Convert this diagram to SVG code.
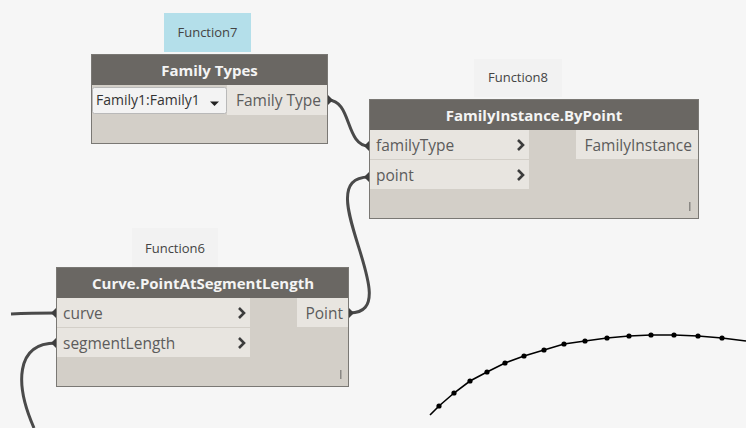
<svg xmlns="http://www.w3.org/2000/svg" width="746" height="428" viewBox="0 0 746 428">
  <style>
    .bg { fill: #f6f6f6; }
    .tag { fill: #f2f2f2; }
    .tag-sel { fill: #b4dfea; }
    .tag-text { font-family: "Open Sans", "Noto Sans", sans-serif; font-size: 13px; fill: #444; text-anchor: middle; }
    .body { fill: #d3cfc8; stroke: #7a7874; stroke-width: 1; }
    .head { fill: #6a6763; }
    .title { font-family: "Open Sans", "Noto Sans", sans-serif; font-size: 15px; font-weight: bold; fill: #f4f4f4; text-anchor: middle; }
    .port { fill: #e8e5e0; }
    .port-text { font-family: "Open Sans", "Noto Sans", sans-serif; font-size: 15.5px; fill: #5c5c5c; }
    .chev { fill: none; stroke: #3c3c3c; stroke-width: 2.6; stroke-linejoin: miter; }
    .lace { fill: #8a8884; }
    .wire { fill: none; stroke: #4a4a4a; stroke-width: 3; }
    .cap { fill: #3e3e3e; }
    .curve { fill: none; stroke: #000; stroke-width: 1.6; }
    .pt { fill: #000; }
  </style>

  <rect class="bg" x="0" y="0" width="746" height="428"/>

  <!-- connectors -->
  <g id="connectors">
    <path class="wire" d="M 328 100 C 352 100, 345 146, 369 146"/>
    <path class="wire" d="M 350 313 C 410 313, 305 177, 369 177"/>
    <path class="wire" d="M 11 314 C 30 313, 40 313, 56 313"/>
    <path class="wire" d="M 56 343 C 15 343, 15 385, 34 428"/>
    <path class="cap" d="M 328 95 L 333 100 L 328 105 Z"/>
    <path class="cap" d="M 369 141 L 364 146 L 369 151 Z"/>
    <path class="cap" d="M 369 172 L 364 177 L 369 182 Z"/>
    <path class="cap" d="M 349 308 L 354 313 L 349 318 Z"/>
    <path class="cap" d="M 56 308 L 51 313 L 56 318 Z"/>
    <path class="cap" d="M 56 338 L 51 343 L 56 348 Z"/>
  </g>

  <!-- node: Family Types -->
  <g id="function7">
    <rect class="tag-sel" x="164" y="13" width="87" height="39"/>
    <text class="tag-text" x="207.5" y="37">Function7</text>
    <rect class="body" x="91.5" y="54.5" width="236" height="89"/>
    <rect class="head" x="92" y="55" width="235" height="30"/>
    <text class="title" x="209.5" y="76">Family Types</text>
    <rect class="port" x="227" y="85" width="100" height="30"/>
    <text class="port-text" x="321" y="106" text-anchor="end">Family Type</text>
    <rect x="92.5" y="87.5" width="134" height="26" rx="2" fill="#f3f3f3" stroke="#b9b9b9"/>
    <text x="96" y="105" font-family="Open Sans, Noto Sans, sans-serif" font-size="14" fill="#333">Family1:Family1</text>
    <path d="M 210 101.5 L 219 101.5 L 214.5 106 Z" fill="#222"/>
  </g>

  <!-- node: FamilyInstance.ByPoint -->
  <g id="function8">
    <rect class="tag" x="474" y="59" width="88" height="38"/>
    <text class="tag-text" x="518" y="82">Function8</text>
    <rect class="body" x="369.5" y="99.5" width="329" height="119"/>
    <rect class="head" x="370" y="100" width="328" height="30"/>
    <text class="title" x="534" y="121">FamilyInstance.ByPoint</text>
    <rect class="port" x="370" y="130" width="159" height="29"/>
    <rect class="port" x="370" y="160" width="159" height="29"/>
    <text class="port-text" x="376" y="151">familyType</text>
    <text class="port-text" x="376" y="181">point</text>
    <path class="chev" d="M 518 140 L 523 145 L 518 150"/>
    <path class="chev" d="M 518 170 L 523 175 L 518 180"/>
    <rect class="port" x="576" y="130" width="122" height="29"/>
    <text class="port-text" x="692" y="151" text-anchor="end">FamilyInstance</text>
    <rect class="lace" x="689" y="202" width="1.5" height="9"/>
  </g>

  <!-- node: Curve.PointAtSegmentLength -->
  <g id="function6">
    <rect class="tag" x="132" y="228" width="86" height="39"/>
    <text class="tag-text" x="175" y="253">Function6</text>
    <rect class="body" x="56.5" y="267.5" width="292" height="119"/>
    <rect class="head" x="57" y="268" width="291" height="30"/>
    <text class="title" x="203" y="289">Curve.PointAtSegmentLength</text>
    <rect class="port" x="57" y="298" width="193" height="29"/>
    <rect class="port" x="57" y="328" width="193" height="29"/>
    <text class="port-text" x="63" y="319">curve</text>
    <text class="port-text" x="63" y="349">segmentLength</text>
    <path class="chev" d="M 239 308 L 244 313 L 239 318"/>
    <path class="chev" d="M 239 338 L 244 343 L 239 348"/>
    <rect class="port" x="297" y="298" width="51" height="29"/>
    <text class="port-text" x="343" y="319" text-anchor="end">Point</text>
    <rect class="lace" x="340" y="370" width="1.5" height="9"/>
  </g>

  <!-- background geometry preview: divided arc -->
  <g id="preview">
    <polyline class="curve" points="430,415 439,406 454,393 470,381 487,372 505,363 524,356 544,350 564,344 585,341 607,338 629,336 651,335 674,335 698,336 722,338 746,341"/>
    <g class="pt">
      <circle cx="439" cy="406" r="2.6"/>
      <circle cx="454" cy="393" r="2.6"/>
      <circle cx="470" cy="381" r="2.6"/>
      <circle cx="487" cy="372" r="2.6"/>
      <circle cx="505" cy="363" r="2.6"/>
      <circle cx="524" cy="356" r="2.6"/>
      <circle cx="544" cy="350" r="2.6"/>
      <circle cx="564" cy="344" r="2.6"/>
      <circle cx="585" cy="341" r="2.6"/>
      <circle cx="607" cy="338" r="2.6"/>
      <circle cx="629" cy="336" r="2.6"/>
      <circle cx="651" cy="335" r="2.6"/>
      <circle cx="674" cy="335" r="2.6"/>
      <circle cx="698" cy="336" r="2.6"/>
      <circle cx="722" cy="338" r="2.6"/>
    </g>
  </g>
</svg>
